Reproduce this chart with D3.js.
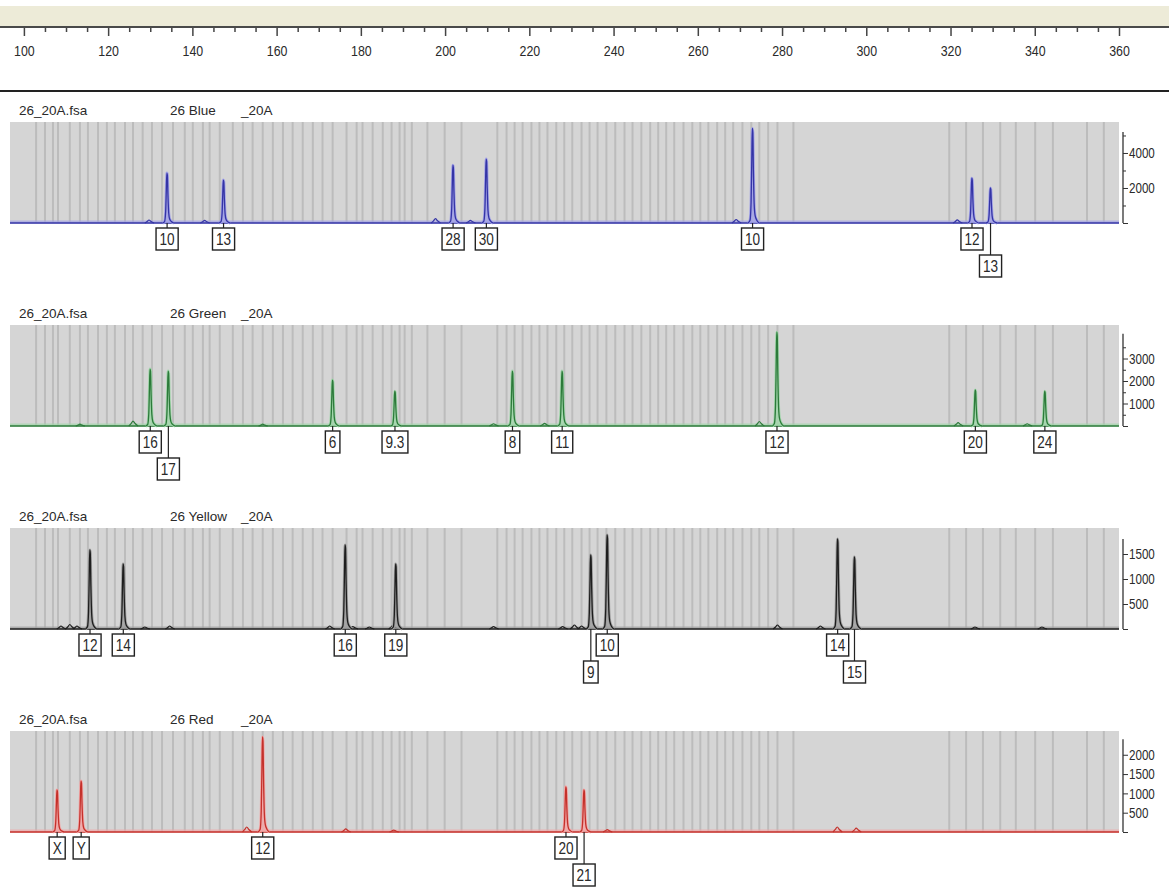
<!DOCTYPE html>
<html>
<head>
<meta charset="utf-8">
<script src="https://cdn.jsdelivr.net/npm/d3@7"></script>
<style>
  body { margin: 0; background: #fff; }
  svg { display: block; }
  text { font-family: "Liberation Sans", Arial, sans-serif; fill: #2a2a2a; }
  .title { font-size: 13.5px; }
</style>
</head>
<body>
<svg width="1169" height="888"></svg>
<script>
const fileName = "26_20A.fsa";
const dyeNames = ["26 Blue", "26 Green", "26 Yellow", "26 Red"];
const sampleTag = "_20A";
const sizeLabels = d3.range(100, 361, 20);   // ruler labels (bp)
const sizeMinor = d3.range(100, 361, 5);     // small ruler ticks

// bin stripes, in bp, shared by the four dye panels
const bins = [
  102.9, 105.0, 106.9, 108.1, 110.9, 113.3, 115.2, 117.6, 119.7, 121.6, 124.0, 125.9,
  128.2, 130.4, 132.8, 135.4, 138.2, 140.1, 142.5, 144.1, 146.5, 149.6, 152.0, 154.3,
  156.7, 159.1, 161.5, 163.8, 166.2, 168.6, 170.9, 173.3, 176.6, 179.0, 180.4, 182.8,
  185.2, 187.3, 189.2, 190.4, 192.1, 195.8, 199.9, 203.9, 212.4, 214.6, 216.5, 218.4,
  220.5, 222.4, 224.3, 226.4, 228.3, 230.2, 232.4, 234.3, 236.2, 238.3, 240.4, 242.6,
  244.5, 246.6, 248.7, 250.6, 252.5, 254.4, 256.6, 258.7, 260.6, 262.5, 264.6, 266.5,
  268.4, 270.6, 272.7, 274.6, 276.7, 278.9, 282.7, 319.7, 323.7, 327.7, 331.8, 335.5,
  340.1, 344.3, 352.4, 356.4
];

// called peaks: [size bp, height rfu, allele]
const bluePeaks = [
  [134.0, 2850, "10"], [147.4, 2450, "13"], [201.9, 3300, "28"], [209.8, 3650, "30"],
  [273.0, 5400, "10"], [325.1, 2560, "12"], [329.5, 2000, "13"]
];
const greenPeaks = [
  [130.0, 2530, "16"], [134.3, 2440, "17"], [173.3, 2040, "6"], [188.1, 1550, "9.3"],
  [216.0, 2440, "8"], [227.8, 2440, "11"], [278.8, 4170, "12"], [325.9, 1600, "20"],
  [342.4, 1550, "24"]
];
const yellowPeaks = [
  [115.7, 1580, "12"], [123.6, 1300, "14"], [176.3, 1680, "16"], [188.3, 1300, "19"],
  [234.6, 1480, "9"], [238.5, 1880, "10"], [293.2, 1800, "14"], [297.2, 1440, "15"]
];
const redPeaks = [
  [107.9, 1090, "X"], [113.6, 1320, "Y"], [156.7, 2460, "12"], [228.7, 1170, "20"],
  [233.0, 1090, "21"]
];

// small unlabelled bumps: [size bp, height rfu]
const blueNoise = [[129.7, 170], [142.9, 150], [197.7, 250], [206.0, 150], [269.1, 200], [321.6, 180]];
const greenNoise = [[113.3, 80], [125.9, 220], [156.7, 80], [211.5, 100], [223.6, 120], [274.6, 200], [321.8, 150], [338.2, 100]];
const yellowNoise = [[108.8, 60], [110.9, 90], [112.6, 60], [128.7, 40], [134.6, 60], [172.6, 60], [178.1, 50],
  [182.0, 40], [187.6, 70], [211.5, 50], [227.9, 50], [230.7, 80], [232.4, 60], [278.9, 80], [289.1, 60],
  [325.8, 40], [341.7, 40]];
const redNoise = [[152.9, 130], [176.4, 80], [187.8, 50], [238.5, 60], [293.1, 130], [297.6, 100]];

// rfu axis per dye
const yMaxes = [5770, 4490, 2020, 2615];
const yAxisTops = [5200, 4100, 1800, 2400];
const yLabels = [[2000, 4000], [1000, 2000, 3000], [500, 1000, 1500], [500, 1000, 1500, 2000]];
const yMinor = [[1000, 3000, 5000], [500, 1500, 2500, 3500], [], []];

const dyes = [
  {peaks: bluePeaks, noise: blueNoise, dark: "#3434a6", light: "#a3a3e6"},
  {peaks: greenPeaks, noise: greenNoise, dark: "#2c7a3a", light: "#a2d6ab"},
  {peaks: yellowPeaks, noise: yellowNoise, dark: "#1e1e1e", light: "#9d9d9d"},
  {peaks: redPeaks, noise: redNoise, dark: "#c4312b", light: "#f2a8a8"}
];

const svg = d3.select("svg");
const width = 1169;
const narrow = "scale(0.8,1)";   // squeeze digits like the narrow screen font

const x = d3.scaleLinear().domain([96.7, 360]).range([10, 1119]);

// ---- size ruler on top
svg.append("rect").attr("x", 0).attr("y", 6).attr("width", width).attr("height", 20).attr("fill", "#edebd8");

const ruler = svg.append("g").attr("transform", "translate(0,27)");
ruler.append("g")
    .call(d3.axisBottom(x).tickValues(sizeMinor.filter(v => v % 20)).tickSize(5).tickFormat(""))
    .call(g => g.select(".domain").remove())
    .call(g => g.selectAll("line").attr("stroke", "#444").attr("stroke-width", 1.5));
ruler.append("g")
    .call(d3.axisBottom(x).tickValues(sizeLabels).tickSize(9).tickPadding(9))
    .call(g => g.select(".domain").remove())
    .call(g => g.selectAll("line").attr("stroke", "#444").attr("stroke-width", 1.5))
    .call(g => g.selectAll("text").attr("font-size", 15.5).attr("font-family", null)
        .attr("fill", "#2a2a2a").attr("transform", narrow));
ruler.append("line").attr("x1", 0).attr("x2", width).attr("stroke", "#4a4a4a").attr("stroke-width", 2);

svg.append("line").attr("x1", 0).attr("x2", width).attr("y1", 91).attr("y2", 91)
    .attr("stroke", "#222").attr("stroke-width", 2);

// ---- peak outlines (offset in bp, fraction of height)
const peakShape = [[-1.1, 0], [-0.6, 0.03], [-0.35, 0.22], [-0.18, 0.68], [-0.06, 1], [0.06, 0.96],
  [0.2, 0.55], [0.38, 0.2], [0.6, 0.08], [1.0, 0.03], [1.6, 0]];
const bumpShape = [[-1.0, 0], [-0.45, 0.5], [0, 1], [0.5, 0.5], [1.2, 0]];

const panelTop0 = 122, panelH = 101, panelStep = 203;
const boxH = 22;

dyes.forEach((dye, i) => {
  const top = panelTop0 + i * panelStep;
  const base = top + panelH;
  const y = d3.scaleLinear().domain([0, yMaxes[i]]).range([base, top]);
  const g = svg.append("g");

  // header
  g.append("text").attr("class", "title").attr("x", 19).attr("y", top - 7).text(fileName);
  g.append("text").attr("class", "title").attr("x", 170).attr("y", top - 7).text(dyeNames[i]);
  g.append("text").attr("class", "title").attr("x", 241).attr("y", top - 7).text(sampleTag);

  // gray field with bin stripes
  g.append("rect").attr("x", x.range()[0]).attr("y", top)
      .attr("width", x.range()[1] - x.range()[0]).attr("height", panelH).attr("fill", "#d5d5d5");
  g.selectAll(".bin").data(bins).join("line")
      .attr("x1", d => x(d)).attr("x2", d => x(d))
      .attr("y1", top).attr("y2", base)
      .attr("stroke", "#bcbcbc").attr("stroke-width", 2);

  // rfu axis
  const ax = g.append("g").attr("transform", `translate(1123,0)`);
  ax.append("line").attr("y1", base).attr("y2", y(yAxisTops[i])).attr("stroke", "#333").attr("stroke-width", 1.3);
  ax.append("g").call(d3.axisRight(y).tickValues(yMinor[i]).tickSize(3).tickFormat(""))
      .call(a => a.select(".domain").remove());
  ax.append("g").call(d3.axisRight(y).tickValues(yLabels[i].concat([0])).tickSize(5).tickPadding(1)
        .tickFormat(d => d ? d : ""))
      .call(a => a.select(".domain").remove())
      .call(a => a.selectAll("text").attr("font-size", 14.5).attr("font-family", null)
          .attr("fill", "#2a2a2a").attr("transform", narrow)
          .attr("x", 6 / 0.8));
  ax.selectAll("line").attr("stroke", "#333");

  // trace
  g.append("line").attr("x1", x.range()[0]).attr("x2", x.range()[1]).attr("y1", base - 1).attr("y2", base - 1)
      .attr("stroke", dye.light).attr("stroke-width", 3).attr("opacity", 0.7);
  g.append("line").attr("x1", x.range()[0]).attr("x2", x.range()[1]).attr("y1", base).attr("y2", base)
      .attr("stroke", dye.dark).attr("stroke-width", 1.4);

  dye.noise.forEach(([bp, h]) => {
    const line = d3.line().x(d => x(bp + d[0])).y(d => y(h * d[1])).curve(d3.curveMonotoneX);
    g.append("path").attr("d", line(bumpShape)).attr("fill", "none")
        .attr("stroke", dye.dark).attr("stroke-width", 1.2);
  });

  dye.peaks.forEach(([bp, h]) => {
    const line = d3.line().x(d => x(bp + d[0])).y(d => y(h * d[1])).curve(d3.curveMonotoneX);
    g.append("path").attr("d", line(peakShape))
        .attr("fill", dye.light).attr("fill-opacity", 0.8)
        .attr("stroke", dye.light).attr("stroke-width", 3).attr("stroke-linejoin", "round");
    g.append("path").attr("d", line(peakShape))
        .attr("fill", "none").attr("stroke", dye.dark).attr("stroke-width", 1.3);
  });

  // allele label boxes: overlapping neighbours -> smaller peak drops to second row
  const labels = dye.peaks.map(([bp, h, name]) => ({bp, h, name, row: 0}));
  const lg = g.append("g");
  labels.forEach(d => {
    d.text = lg.append("text").attr("font-size", 17).attr("text-anchor", "middle")
        .attr("transform", narrow).text(d.name);
    d.w = d.text.node().getComputedTextLength() * 0.8 + 7;
  });
  for (let k = 0; k < labels.length - 1; k++) {
    const a = labels[k], b = labels[k + 1];
    if (a.row === 0 && x(a.bp) + a.w / 2 + 2 > x(b.bp) - b.w / 2) {
      (a.h < b.h ? a : b).row = 1;
    }
  }
  labels.forEach(d => {
    const cx = x(d.bp);
    const bt = base + 5 + d.row * 27;
    lg.append("line").attr("x1", cx).attr("x2", cx).attr("y1", base).attr("y2", bt)
        .attr("stroke", "#222").attr("stroke-width", 1.2);
    lg.insert("rect", "text").attr("x", cx - d.w / 2).attr("y", bt).attr("width", d.w).attr("height", boxH)
        .attr("fill", "#fff").attr("stroke", "#222").attr("stroke-width", 1.4);
    d.text.attr("x", cx / 0.8).attr("y", bt + boxH / 2 + 6);
  });
});
</script>
</body>
</html>
